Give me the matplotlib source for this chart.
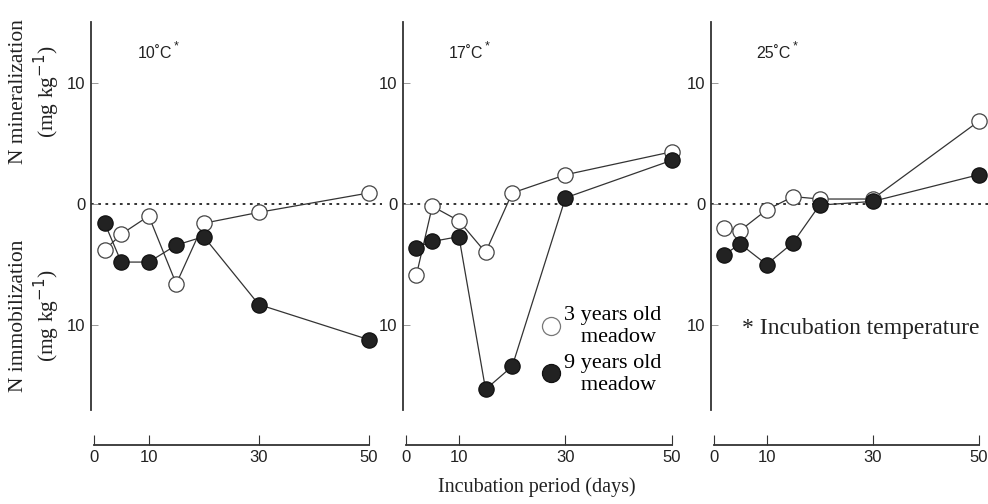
import matplotlib
matplotlib.use("Agg")
import matplotlib.pyplot as plt
from matplotlib.lines import Line2D

# sampling days and N values (negative = immobilization)
days = [2, 5, 10, 15, 20, 30, 50]

t10_3yr = [-3.8, -2.5, -1.0, -6.6, -1.6, -0.7, 0.9]
t10_9yr = [-1.6, -4.8, -4.8, -3.4, -2.7, -8.3, -11.2]

t17_3yr = [-5.9, -0.2, -1.4, -4.0, 0.9, 2.4, 4.3]
t17_9yr = [-3.6, -3.1, -2.7, -15.3, -13.4, 0.5, 3.6]

t25_3yr = [-2.0, -2.2, -0.5, 0.6, 0.4, 0.4, 6.8]
t25_9yr = [-4.2, -3.3, -5.0, -3.2, -0.1, 0.2, 2.4]

panel_titles = ["10˚C", "17˚C", "25˚C"]
series_3yr = [t10_3yr, t17_3yr, t25_3yr]
series_9yr = [t10_9yr, t17_9yr, t25_9yr]
xticks = [0, 10, 30, 50]
yticks = [-10, 0, 10]
ytick_labels = ["10", "0", "10"]

serif = "Liberation Serif"
sans = "Liberation Sans"
axcol = "#333333"

fig = plt.figure(figsize=(9.88, 5.04), dpi=100)

lefts = [91, 403, 711]
widths = [291, 285, 285]
xmax = [52.4, 53, 53.3]
bottom = (504 - 410) / 504
height = (410 - 22) / 504

axes = []
for i in range(3):
    ax = fig.add_axes([lefts[i] / 988, bottom, widths[i] / 988, height])
    axes.append(ax)
    ax.set_xlim(-0.5, xmax[i])
    ax.set_ylim(-17, 15)

    ax.axhline(0, color="#222222", ls=(0, (1.5, 2.5)), lw=1.3, zorder=1)

    ax.plot(days, series_3yr[i], color="#333333", lw=0.9, marker="o", ms=11,
            mfc="white", mec="#444444", mew=0.9, zorder=3, clip_on=False)
    ax.plot(days, series_9yr[i], color="#333333", lw=0.9, marker="o", ms=11,
            mfc="#222222", mec="#111111", mew=0.9, zorder=4, clip_on=False)

    for s in ["top", "right"]:
        ax.spines[s].set_visible(False)
    ax.spines["left"].set_color(axcol)
    ax.spines["left"].set_linewidth(1.3)
    ax.spines["bottom"].set_position(("outward", 25))
    ax.spines["bottom"].set_bounds(0, 50)
    ax.spines["bottom"].set_color(axcol)
    ax.spines["bottom"].set_linewidth(1.3)

    ax.set_xticks(xticks)
    ax.set_xticklabels([str(v) for v in xticks], fontfamily=sans, fontsize=12,
                       color="#222222")
    ax.tick_params(axis="x", direction="in", length=7, width=0.8, color=axcol, pad=4)
    ax.set_yticks(yticks)
    ax.set_yticklabels(ytick_labels, fontfamily=sans, fontsize=12, color="#222222")
    ax.tick_params(axis="y", direction="in", length=5, width=0.6, color="#888888", pad=4)

    # temperature label with a raised asterisk
    t = ax.text(0.16, 0.92, panel_titles[i], transform=ax.transAxes, va="center",
                fontfamily=sans, fontsize=11.5, color="#222222")
    ax.annotate("*", xy=(1, 1), xycoords=t, xytext=(1, 3.5),
                textcoords="offset points", va="top", ha="left",
                fontfamily=sans, fontsize=9, color="#222222")

# legend in middle panel
handles = [
    Line2D([], [], ls="", marker="o", ms=13, mfc="white", mec="#777777", mew=0.9),
    Line2D([], [], ls="", marker="o", ms=13, mfc="#222222", mec="#111111", mew=0.9),
]
axes[1].legend(handles, ["3 years old\n   meadow", "9 years old\n   meadow"],
               loc="upper left", bbox_to_anchor=(0.465, 0.29), frameon=False,
               handlelength=0.6, handletextpad=0.3, labelspacing=0.3,
               borderaxespad=0, prop={"family": serif, "size": 16})

axes[2].text(0.11, 0.195, "* Incubation temperature", transform=axes[2].transAxes,
             fontfamily=serif, fontsize=17, color="#222222")

# y labels
fig.text(0.036, (504 - 92) / 504, "N mineralization\n(mg kg$^{-1}$)", rotation=90,
         ha="center", va="center", fontfamily=serif, fontsize=15.5, color="#222222",
         linespacing=1.15)
fig.text(0.036, (504 - 316) / 504, "N immobilization\n(mg kg$^{-1}$)", rotation=90,
         ha="center", va="center", fontfamily=serif, fontsize=15.5, color="#222222",
         linespacing=1.15)

fig.text(537 / 988, (504 - 487) / 504, "Incubation period (days)", ha="center",
         va="center", fontfamily=serif, fontsize=14.5, color="#222222")

fig.savefig("out.png", dpi=100)
